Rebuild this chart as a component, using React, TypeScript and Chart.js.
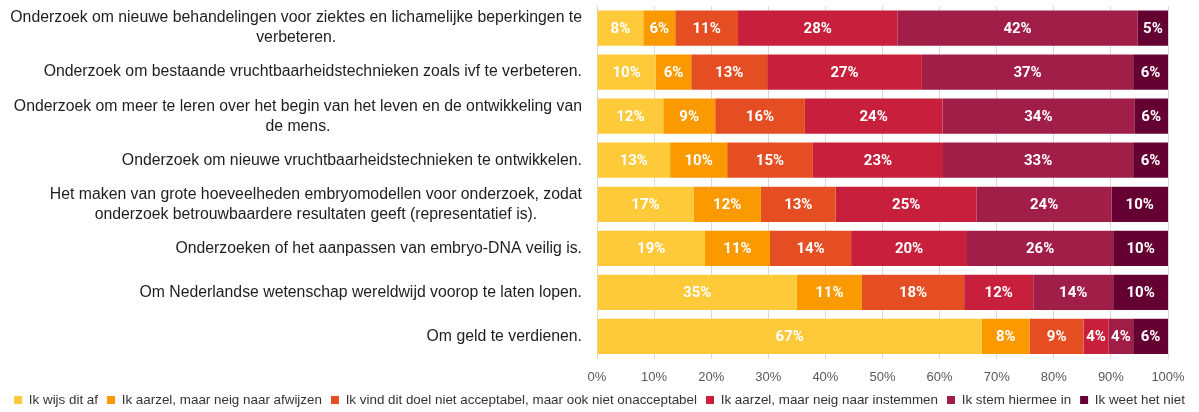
import React, { useEffect, useRef } from 'react';
import { Chart, registerables } from 'chart.js';

Chart.register(...registerables);

const categories: string[][] = [
  ['Onderzoek om nieuwe behandelingen voor ziektes en lichamelijke beperkingen te', 'verbeteren.'],
  ['Onderzoek om bestaande vruchtbaarheidstechnieken zoals ivf te verbeteren.'],
  ['Onderzoek om meer te leren over het begin van het leven en de ontwikkeling van', 'de mens.'],
  ['Onderzoek om nieuwe vruchtbaarheidstechnieken te ontwikkelen.'],
  ['Het maken van grote hoeveelheden embryomodellen voor onderzoek, zodat', 'onderzoek betrouwbaardere resultaten geeft (representatief is).'],
  ['Onderzoeken of het aanpassen van embryo-DNA veilig is.'],
  ['Om Nederlandse wetenschap wereldwijd voorop te laten lopen.'],
  ['Om geld te verdienen.'],
];

const seriesNames = [
  'Ik wijs dit af',
  'Ik aarzel, maar neig naar afwijzen',
  'Ik vind dit doel niet acceptabel, maar ook niet onacceptabel',
  'Ik aarzel, maar neig naar instemmen',
  'Ik stem hiermee in',
  'Ik weet het niet',
];

const wijsAf = [8.1, 10.3, 11.6, 12.8, 16.9, 18.9, 35.0, 67.4];
const aarzelAfwijzen = [5.6, 6.2, 9.1, 10.0, 11.8, 11.4, 11.4, 8.4];
const nietAcceptabel = [11.0, 13.3, 15.7, 15.0, 13.1, 14.2, 17.9, 9.4];
const aarzelInstemmen = [27.9, 27.1, 24.1, 22.8, 24.7, 20.3, 12.1, 4.4];
const stemIn = [42.1, 37.0, 33.6, 33.3, 23.6, 25.6, 14.0, 4.3];
const weetNiet = [5.3, 6.1, 5.9, 6.1, 9.9, 9.6, 9.6, 6.1];

const seriesValues = [wijsAf, aarzelAfwijzen, nietAcceptabel, aarzelInstemmen, stemIn, weetNiet];
const seriesColors = ['#FFCA3A', '#FB9A00', '#E54D22', '#C8203C', '#A01E48', '#650033'];

const xTicks = [0, 10, 20, 30, 40, 50, 60, 70, 80, 90, 100];

const FONT = "'Liberation Sans', Arial, sans-serif";
const LABEL_FONT = "bold 15px Roboto, 'Liberation Sans', sans-serif";

const segLabelPlugin = {
  id: 'segLabels',
  afterDatasetsDraw(chart: any) {
    const ctx = chart.ctx;
    ctx.save();
    ctx.font = LABEL_FONT;
    ctx.fillStyle = '#ffffff';
    ctx.textAlign = 'center';
    ctx.textBaseline = 'middle';
    chart.data.datasets.forEach((ds: any, di: number) => {
      const meta = chart.getDatasetMeta(di);
      meta.data.forEach((el: any, i: number) => {
        const v = ds.data[i];
        const p = el.getProps(['x', 'base', 'y'], true);
        ctx.fillText(Math.round(v) + '%', (p.x + p.base) / 2, p.y + 1);
      });
    });
    ctx.restore();
  },
};

const yLabelPlugin = {
  id: 'yLabels',
  afterDraw(chart: any) {
    const ctx = chart.ctx;
    const scale = chart.scales.y;
    ctx.save();
    ctx.font = '15.8px ' + FONT;
    ctx.fillStyle = '#1e1e1e';
    ctx.textAlign = 'center';
    ctx.textBaseline = 'middle';
    const right = scale.right - 15;
    const lh = 20;
    categories.forEach((lines, i) => {
      const yc = scale.getPixelForValue(i);
      const maxW = Math.max(...lines.map((l) => ctx.measureText(l).width));
      lines.forEach((l, k) => {
        const y = yc + (k - (lines.length - 1) / 2) * lh;
        ctx.fillText(l, right - maxW / 2, y);
      });
    });
    ctx.restore();
  },
};

export default function App() {
  const ref = useRef<HTMLCanvasElement | null>(null);

  useEffect(() => {
    if (!ref.current) return;
    const chart = new Chart(ref.current, {
      type: 'bar',
      data: {
        labels: categories.map((c) => c.join(' ')),
        datasets: seriesNames.map((name, si) => ({
          label: name,
          data: seriesValues[si],
          backgroundColor: seriesColors[si],
          borderWidth: 0,
          categoryPercentage: 1,
          barPercentage: 0.8,
        })),
      },
      options: {
        indexAxis: 'y',
        animation: false,
        responsive: true,
        maintainAspectRatio: false,
        layout: { padding: { top: 6, right: 0, bottom: -4.7, left: 0 } },
        plugins: {
          legend: {
            position: 'bottom',
            labels: {
              boxWidth: 8,
              boxHeight: 8,
              padding: 9,
              color: '#333333',
              font: { family: FONT, size: 13.4 },
            },
          },
          tooltip: { enabled: false },
        },
        scales: {
          x: {
            stacked: true,
            min: 0,
            max: 100,
            afterBuildTicks: (s: any) => {
              s.ticks = xTicks.map((v) => ({ value: v }));
            },
            afterFit: (s: any) => {
              s.height = 25.8;
            },
            ticks: {
              padding: 11,
              color: '#595959',
              font: { family: FONT, size: 13 },
              callback: (v: any) => v + '%',
            },
            grid: { color: '#D9D9D9', drawTicks: false },
            border: { display: false },
          },
          y: {
            stacked: true,
            afterFit: (s: any) => {
              s.width = 597;
            },
            ticks: { display: false },
            grid: { display: false },
            border: { display: false },
          },
          yr: {
            type: 'category',
            position: 'right',
            afterFit: (s: any) => {
              s.width = 31;
            },
            ticks: { display: false },
            grid: { display: false },
            border: { display: false },
          },
        },
      },
      plugins: [segLabelPlugin, yLabelPlugin],
    } as any);
    return () => chart.destroy();
  }, []);

  return (
    <div style={{ position: 'absolute', left: 0, top: 0, width: 1199, height: 412 }}>
      <canvas ref={ref} />
    </div>
  );
}
